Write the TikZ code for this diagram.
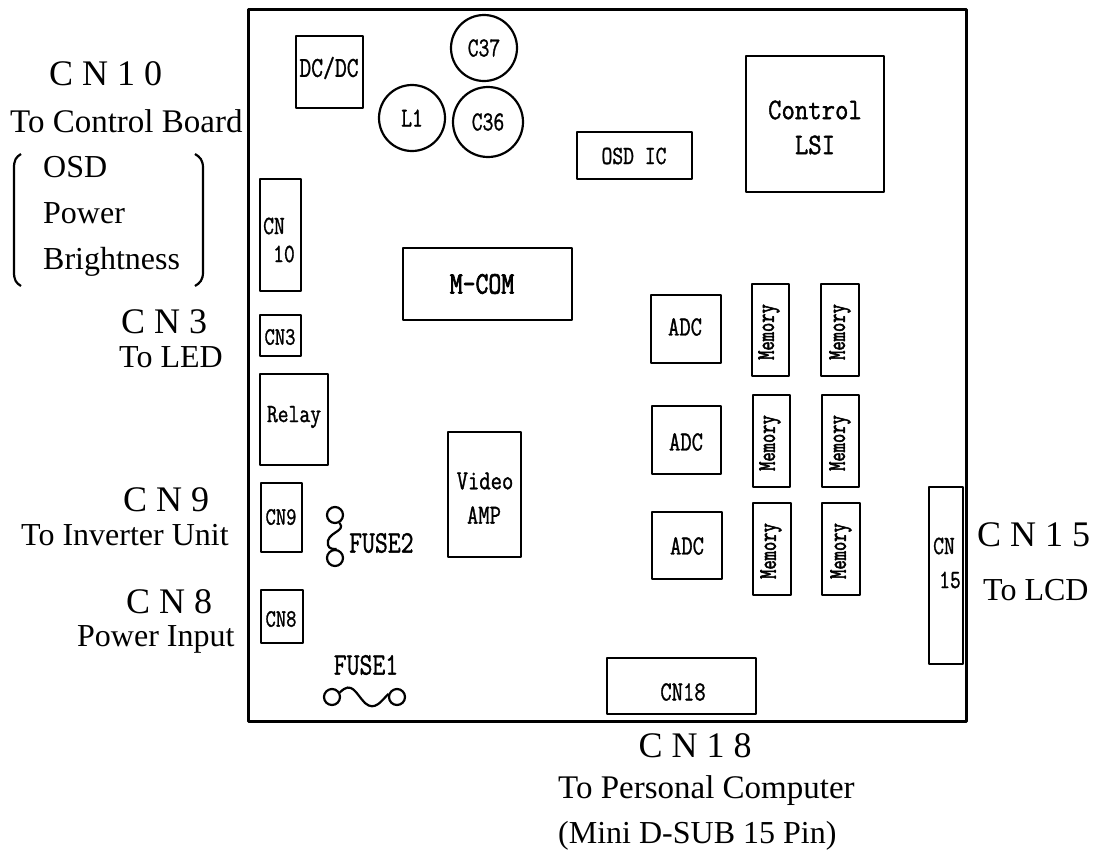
\documentclass[tikz,border=0pt]{standalone}
\usepackage{graphicx}
\usepackage{fontspec}
\setmainfont{Liberation Serif}
\newfontfamily\chipfont[FakeBold=1.3]{Latin Modern Mono}
\newfontfamily\heavyfont[FakeBold=2.6]{Latin Modern Mono}
\newcommand{\mono}[3][1.25]{\scalebox{1}[#1]{\fontsize{#2}{#2}\chipfont #3}}
\newcommand{\heavy}[3][1.25]{\scalebox{1}[#1]{\fontsize{#2}{#2}\heavyfont #3}}
\tikzset{
  board/.style={draw=black,line width=3pt,line join=round},
  part/.style={draw=black,line width=2.2pt,line join=round},
  thinline/.style={draw=black,line width=2.2pt},
  serif/.style={anchor=base west,inner sep=0pt,font=\fontsize{32}{36}\selectfont},
  serifl/.style={anchor=base west,inner sep=0pt,font=\fontsize{33}{36}\selectfont},
  big/.style={anchor=base west,inner sep=0pt,font=\fontsize{36}{40}\selectfont},
  bigc/.style={anchor=base,inner sep=0pt,font=\fontsize{36}{40}\selectfont},
  tag/.style={inner sep=0pt,anchor=center}
}
\begin{document}
\begin{tikzpicture}[x=1pt,y=-1pt]
\useasboundingbox (0,0) rectangle (1099,855);
% board
\draw[board] (248,9) rectangle (966,721);
% parts
\draw[part] (296,36) rectangle (363,108);
\draw[part] (260,179) rectangle (301,291);
\draw[part] (260,315) rectangle (301,356);
\draw[part] (260,374) rectangle (328,465);
\draw[part] (261,483) rectangle (302,552);
\draw[part] (261,590) rectangle (303,643);
\draw[part] (403,248) rectangle (572,320);
\draw[part] (448,432) rectangle (521,557);
\draw[part] (577,132) rectangle (692,179);
\draw[part] (746,56) rectangle (884,192);
\draw[part] (651,295) rectangle (721,363);
\draw[part] (652,406) rectangle (721,474);
\draw[part] (652,512) rectangle (722,579);
\draw[part] (752,284) rectangle (789,376);
\draw[part] (821,284) rectangle (859,376);
\draw[part] (753,395) rectangle (790,487);
\draw[part] (822,395) rectangle (859,487);
\draw[part] (753,503) rectangle (791,595);
\draw[part] (822,503) rectangle (860,595);
\draw[part] (929,487) rectangle (963,664);
\draw[part] (607,658) rectangle (756,714);
% round parts
\node[thinline,circle,minimum size=66pt,inner sep=0pt] (c37) at (484,48) {\mono[1.3]{21}{C37}};
\node[thinline,circle,minimum size=66pt,inner sep=0pt] (l1) at (412,118) {\mono[1.3]{21}{L1}};
\node[thinline,circle,minimum size=70pt,inner sep=0pt] (c36) at (488,122) {\mono[1.3]{21}{C36}};
% fuses
\node[thinline,circle,minimum size=16pt,inner sep=0pt] (f2a) at (335,515) {};
\node[thinline,circle,minimum size=16pt,inner sep=0pt] (f2b) at (335,558) {};
\draw[thinline] (f2a.-60) .. controls (347,532) and (325,532) .. (328,545) .. controls (329,549) and (333,549) .. (f2b.80);
\node[thinline,circle,minimum size=16pt,inner sep=0pt] (f1a) at (332,697) {};
\node[thinline,circle,minimum size=16pt,inner sep=0pt] (f1b) at (397,697) {};
\draw[thinline] (f1a.30) .. controls (352,680) and (356,694) .. (365,703) .. controls (375,712) and (382,700) .. (f1b.160);
% brackets
\draw[thinline] (21,154) .. controls (16,157) and (14,160) .. (14,168) -- (14,272) .. controls (14,280) and (16,283) .. (21,286);
\draw[thinline] (195,154) .. controls (200,157) and (203,160) .. (203,168) -- (203,272) .. controls (203,280) and (200,283) .. (195,286);
% inner labels
\node[tag] (tdc) at (329,68) {\mono{23}{DC/DC}};
\node[tag] (tcn10a) at (274,226) {\mono{21}{CN}};
\node[tag] (tcn10b) at (284,254) {\mono{21}{10}};
\node[tag] (tcn3) at (280,337) {\mono{20}{CN3}};
\node[tag] (trelay) at (294,417) {\mono{21}{Relay}};
\node[tag] (tmcom) at (482,284) {\heavy{25}{M-COM}};
\node[tag] (tvid) at (485,481) {\mono{22}{Video}};
\node[tag] (tamp) at (484,515) {\mono{22}{AMP}};
\node[tag] (tcn9) at (281,517) {\mono{20}{CN9}};
\node[tag] (tcn8) at (281,619) {\mono{20}{CN8}};
\node[tag,anchor=west] (tf2) at (349,543) {\mono{25}{FUSE2}};
\node[tag] (tf1) at (366,665) {\mono{25}{FUSE1}};
\node[tag] (tosd) at (634,156) {\mono{21}{OSD IC}};
\node[tag] (tctl) at (815,110) {\mono[1.15]{26}{Control}};
\node[tag] (tlsi) at (815,145) {\mono[1.15]{26}{LSI}};
\node[tag] (tadc1) at (685,327) {\mono{22}{ADC}};
\node[tag] (tadc2) at (686,442) {\mono{22}{ADC}};
\node[tag] (tadc3) at (687,546) {\mono{22}{ADC}};
\node[tag,rotate=90] (tm1) at (769,332) {\heavy[1.4]{18}{Memory}};
\node[tag,rotate=90] (tm2) at (840,332) {\heavy[1.4]{18}{Memory}};
\node[tag,rotate=90] (tm3) at (770,443) {\heavy[1.4]{18}{Memory}};
\node[tag,rotate=90] (tm4) at (840,443) {\heavy[1.4]{18}{Memory}};
\node[tag,rotate=90] (tm5) at (771,551) {\heavy[1.4]{18}{Memory}};
\node[tag,rotate=90] (tm6) at (841,551) {\heavy[1.4]{18}{Memory}};
\node[tag] (tcn15a) at (944,546) {\mono{21}{CN}};
\node[tag] (tcn15b) at (950,580) {\mono{21}{15}};
\node[tag] (tcn18) at (683,692) {\mono{22}{CN18}};
% outer labels
\node[big] (l10) at (49,85) {C N 1 0};
\node[serifl] (l10a) at (10,132) {To Control Board};
\node[serif] (losd) at (43,177) {OSD};
\node[serif] (lpow) at (43,223) {Power};
\node[serif] (lbri) at (43,269) {Brightness};
\node[big] (l3) at (121,333) {C N 3};
\node[serif] (l3a) at (119,367) {To LED};
\node[big] (l9) at (123,511) {C N 9};
\node[serif] (l9a) at (21,545) {To Inverter Unit};
\node[big] (l8) at (126,613) {C N 8};
\node[serif] (l8a) at (77,646) {Power Input};
\node[big] (l15) at (977,546) {C N 1 5};
\node[serif] (l15a) at (983,600) {To LCD};
\node[bigc] (l18) at (695,757) {C N 1 8};
\node[serifl] (l18a) at (558,798) {To Personal Computer};
\node[serif] (l18b) at (558,843) {(Mini D-SUB 15 Pin)};
\end{tikzpicture}
\end{document}
